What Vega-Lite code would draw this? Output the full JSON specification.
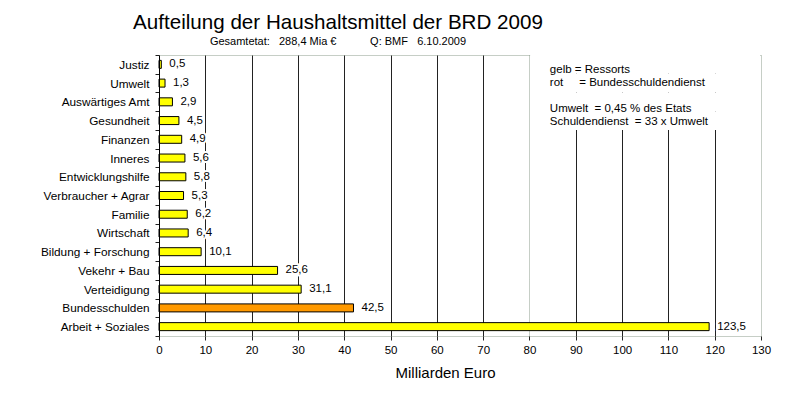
{
  "$schema": "https://vega.github.io/schema/vega-lite/v6.json",
  "width": 602,
  "height": 281,
  "autosize": {"type": "none"},
  "padding": {"left": 159, "top": 55, "right": 31, "bottom": 59},
  "background": "white",
  "title": {
    "text": "Aufteilung der Haushaltsmittel der BRD 2009",
    "subtitle": "Gesamtetat:\u00a0\u00a0 288,4 Mia €\u00a0\u00a0\u00a0\u00a0\u00a0\u00a0\u00a0\u00a0\u00a0\u00a0 Q:\u00a0BMF\u00a0\u00a0 6.10.2009",
    "anchor": "middle",
    "frame": "group",
    "dx": -122,
    "offset": 3.5,
    "font": "Liberation Sans",
    "fontSize": 20.6,
    "fontWeight": "normal",
    "color": "#000000",
    "subtitleFont": "Liberation Sans",
    "subtitleFontSize": 11,
    "subtitleColor": "#000000",
    "subtitlePadding": 2
  },
  "datasets": {
    "haushalt": [
      {"kategorie": "Justiz", "balken": 0.5, "wert": 0.5, "art": "Ressort"},
      {"kategorie": "Umwelt", "balken": 1.3, "wert": 1.3, "art": "Ressort"},
      {"kategorie": "Auswärtiges Amt", "balken": 2.9, "wert": 2.9, "art": "Ressort"},
      {"kategorie": "Gesundheit", "balken": 4.3, "wert": 4.5, "art": "Ressort"},
      {"kategorie": "Finanzen", "balken": 4.9, "wert": 4.9, "art": "Ressort"},
      {"kategorie": "Inneres", "balken": 5.6, "wert": 5.6, "art": "Ressort"},
      {"kategorie": "Entwicklungshilfe", "balken": 5.8, "wert": 5.8, "art": "Ressort"},
      {"kategorie": "Verbraucher + Agrar", "balken": 5.3, "wert": 5.3, "art": "Ressort"},
      {"kategorie": "Familie", "balken": 6.1, "wert": 6.2, "art": "Ressort"},
      {"kategorie": "Wirtschaft", "balken": 6.3, "wert": 6.4, "art": "Ressort"},
      {"kategorie": "Bildung + Forschung", "balken": 9.1, "wert": 10.1, "art": "Ressort"},
      {"kategorie": "Vekehr + Bau", "balken": 25.6, "wert": 25.6, "art": "Ressort"},
      {"kategorie": "Verteidigung", "balken": 30.7, "wert": 31.1, "art": "Ressort"},
      {"kategorie": "Bundesschulden", "balken": 42.0, "wert": 42.5, "art": "Schuldendienst"},
      {"kategorie": "Arbeit + Soziales", "balken": 118.8, "wert": 123.5, "art": "Ressort"}
    ]
  },
  "layer": [
    {
      "data": {"values": [
        {"kategorie": "Justiz"},
        {"kategorie": "Umwelt"},
        {"kategorie": "Auswärtiges Amt"},
        {"kategorie": "Gesundheit"}
      ]},
      "mark": {"type": "rect", "fill": "white", "strokeWidth": 0},
      "encoding": {
        "y": {"field": "kategorie", "type": "nominal"},
        "x": {"datum": 80.15, "type": "quantitative"},
        "x2": {"datum": 129.8}
      }
    },
    {
      "data": {"name": "haushalt"},
      "mark": {"type": "bar", "size": 8, "stroke": "#000000", "strokeWidth": 1},
      "encoding": {
        "y": {
          "field": "kategorie",
          "type": "nominal",
          "scale": {
            "domain": ["Justiz", "Umwelt", "Auswärtiges Amt", "Gesundheit", "Finanzen", "Inneres", "Entwicklungshilfe", "Verbraucher + Agrar", "Familie", "Wirtschaft", "Bildung + Forschung", "Vekehr + Bau", "Verteidigung", "Bundesschulden", "Arbeit + Soziales"],
            "paddingInner": 0,
            "paddingOuter": 0
          },
          "axis": {
            "title": null,
            "tickBand": "extent",
            "domainColor": "#000000",
            "tickColor": "#222222",
            "tickSize": 4,
            "labelPadding": 6,
            "labelFont": "Liberation Sans",
            "labelFontSize": 11.8,
            "labelColor": "#000000",
            "labelLimit": 250,
            "grid": false
          }
        },
        "x": {
          "field": "balken",
          "type": "quantitative",
          "scale": {"domain": [0, 130], "nice": false},
          "axis": {
            "title": "Milliarden Euro",
            "values": [0, 10, 20, 30, 40, 50, 60, 70, 80, 90, 100, 110, 120, 130],
            "grid": true,
            "gridColor": {"condition": {"test": "datum.value === 80", "value": "#8c9c8c"}, "value": "#222222"},
            "gridDash": {"condition": {"test": "datum.value === 80", "value": [1, 1]}, "value": []},
            "gridOpacity": {"condition": {"test": "datum.value === 0 || datum.value === 130", "value": 0}, "value": 1},
            "domain": false,
            "tickColor": "#222222",
            "tickSize": 4,
            "labelPadding": 4,
            "labelFont": "Liberation Sans",
            "labelFontSize": 11.5,
            "labelColor": "#000000",
            "labelFlush": false,
            "labelOverlap": false,
            "titleFont": "Liberation Sans",
            "titleFontSize": 15,
            "titleFontWeight": "normal",
            "titleColor": "#000000",
            "titleX": 286,
            "titleY": 41,
            "titleAlign": "center",
            "titleBaseline": "alphabetic"
          }
        },
        "color": {
          "field": "art",
          "type": "nominal",
          "scale": {"domain": ["Ressort", "Schuldendienst"], "range": ["#ffff00", "#ff9900"]},
          "legend": null
        }
      }
    },
    {
      "data": {"name": "haushalt"},
      "mark": {"type": "text", "align": "left", "baseline": "middle", "dx": 8, "fontSize": 11.5, "fill": "white", "stroke": "white", "strokeWidth": 4, "strokeJoin": "round"},
      "encoding": {
        "y": {"field": "kategorie", "type": "nominal"},
        "x": {"field": "balken", "type": "quantitative"},
        "text": {"field": "wert", "type": "quantitative", "format": ".1f"}
      }
    },
    {
      "data": {"name": "haushalt"},
      "mark": {"type": "text", "align": "left", "baseline": "middle", "dx": 8, "fontSize": 11.5, "color": "#000000"},
      "encoding": {
        "y": {"field": "kategorie", "type": "nominal"},
        "x": {"field": "balken", "type": "quantitative"},
        "text": {"field": "wert", "type": "quantitative", "format": ".1f"}
      }
    },
    {
      "data": {"values": [{}]},
      "mark": {"type": "text", "align": "left", "baseline": "top", "fontSize": 11.5, "lineHeight": 12.5, "color": "#000000"},
      "encoding": {
        "y": {"datum": "Justiz", "type": "nominal"},
        "x": {"datum": 84.4, "type": "quantitative"},
        "text": {"value": ["gelb = Ressorts", "rot\u00a0\u00a0\u00a0\u00a0 = Bundesschuldendienst"]}
      }
    },
    {
      "data": {"values": [{}]},
      "mark": {"type": "text", "align": "left", "baseline": "top", "fontSize": 11.5, "lineHeight": 12.7, "dy": 1.5, "color": "#000000"},
      "encoding": {
        "y": {"datum": "Auswärtiges Amt", "type": "nominal"},
        "x": {"datum": 84.4, "type": "quantitative"},
        "text": {"value": ["Umwelt\u00a0 = 0,45 % des Etats", "Schuldendienst\u00a0 = 33 x Umwelt"]}
      }
    }
  ],
  "config": {
    "font": "Liberation Sans",
    "locale": {"number": {"decimal": ",", "thousands": ".", "grouping": [3], "currency": ["", "\u00a0€"]}},
    "view": {"stroke": "#8c9c8c", "strokeDash": [1, 1]}
  }
}
